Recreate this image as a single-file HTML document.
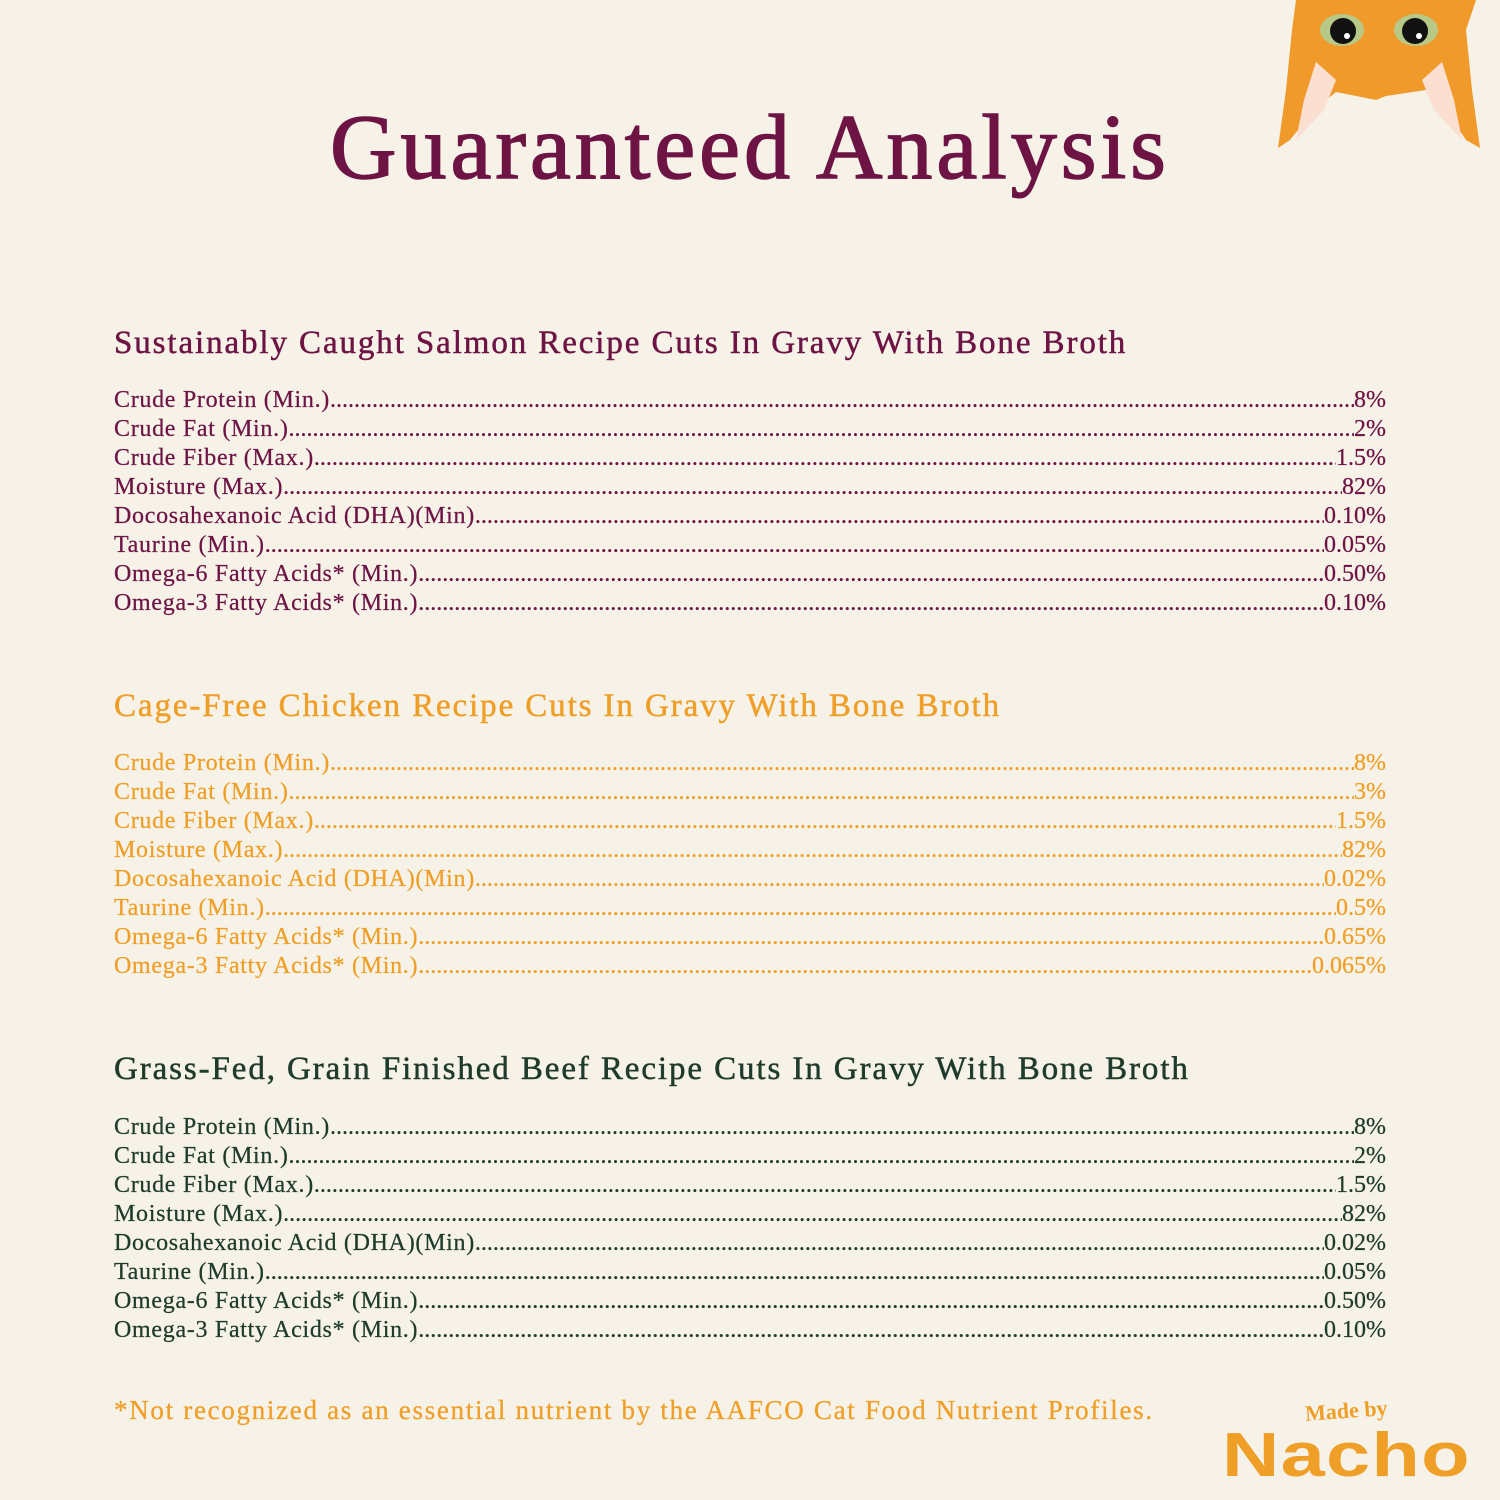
<!DOCTYPE html>
<html><head><meta charset="utf-8"><style>
body{margin:0;width:1500px;height:1500px;background:#f6f2e8;position:relative;overflow:hidden;font-family:"Liberation Serif",serif}
.t{position:absolute;left:0;width:1500px;top:92px;text-align:center;font-size:92px;color:#6d1445;line-height:110px;letter-spacing:4px;-webkit-text-stroke:1.5px #6d1445}
.h{position:absolute;left:114px;font-size:33px;line-height:40px;white-space:nowrap;letter-spacing:1.9px;-webkit-text-stroke:0.5px currentColor}
.r{position:absolute;left:114px;width:1272px;display:flex;font-size:24px;line-height:29px;white-space:nowrap;-webkit-text-stroke:0.25px currentColor}
.r .l{letter-spacing:0.7px}
.r .d{flex:1;overflow:hidden}
.m{color:#6d1445}.o{color:#ef9f27}.g{color:#1f3b2b}
.f{position:absolute;left:114px;top:1395px;font-size:27px;color:#ef9f27;white-space:nowrap;letter-spacing:1.7px;-webkit-text-stroke:0.3px #ef9f27}
</style></head><body>
<div class="t">Guaranteed Analysis</div>
<svg style="position:absolute;left:1276px;top:0" width="206" height="152" viewBox="0 0 206 152">
<path d="M20 0 H200 L190 30 L196 90 L204 148 L190 140 L170 110 L150 90 L110 96 L100 100 L60 92 L38 110 L14 140 L2 148 L10 90 L16 30 Z" fill="#f19a2c"/>
<path d="M40 62 L60 80 L48 110 L20 140 L28 100 Z" fill="#fbe0d2"/>
<path d="M166 62 L146 80 L158 110 L186 140 L178 100 Z" fill="#fbe0d2"/>
<ellipse cx="66" cy="30" rx="22" ry="16" fill="#b8c887"/>
<ellipse cx="140" cy="30" rx="22" ry="16" fill="#b8c887"/>
<circle cx="67" cy="31" r="13" fill="#111"/><circle cx="139" cy="31" r="13" fill="#111"/>
<circle cx="71" cy="36" r="3" fill="#fff"/><circle cx="143" cy="36" r="3" fill="#fff"/>
</svg>
<div class="h m" style="top:323px">Sustainably Caught Salmon Recipe Cuts In Gravy With Bone Broth</div>
<div class="h o" style="top:686px">Cage-Free Chicken Recipe Cuts In Gravy With Bone Broth</div>
<div class="h g" style="top:1049px">Grass-Fed, Grain Finished Beef Recipe Cuts In Gravy With Bone Broth</div>
<div id="rows"></div>
<div class="f">*Not recognized as an essential nutrient by the AAFCO Cat Food Nutrient Profiles.</div>
<div style="position:absolute;left:1305px;top:1398px;font-size:22px;color:#ef9f27;font-weight:bold;transform:rotate(-4deg)">Made by</div>
<div style="position:absolute;left:1222px;top:1420px;font-family:'Liberation Sans',sans-serif;font-size:62px;font-weight:900;color:#ef9f27;letter-spacing:1px;transform:scaleX(1.28);transform-origin:left">Nacho</div>
<script>
var L=["Crude Protein (Min.)","Crude Fat (Min.)","Crude Fiber (Max.)","Moisture (Max.)","Docosahexanoic Acid (DHA)(Min)","Taurine (Min.)","Omega-6 Fatty Acids* (Min.)","Omega-3 Fatty Acids* (Min.)"];
var S=[["m",386,["8%","2%","1.5%","82%","0.10%","0.05%","0.50%","0.10%"]],["o",749,["8%","3%","1.5%","82%","0.02%","0.5%","0.65%","0.065%"]],["g",1113,["8%","2%","1.5%","82%","0.02%","0.05%","0.50%","0.10%"]]];
var dots=new Array(400).join(".");var h="";
S.forEach(function(s){for(var i=0;i<8;i++){h+='<div class="r '+s[0]+'" style="top:'+(s[1]+i*29)+'px"><span class="l">'+L[i]+'</span><span class="d">'+dots+'</span><span>'+s[2][i]+'</span></div>';}});
document.getElementById("rows").innerHTML=h;
</script>
</body></html>
